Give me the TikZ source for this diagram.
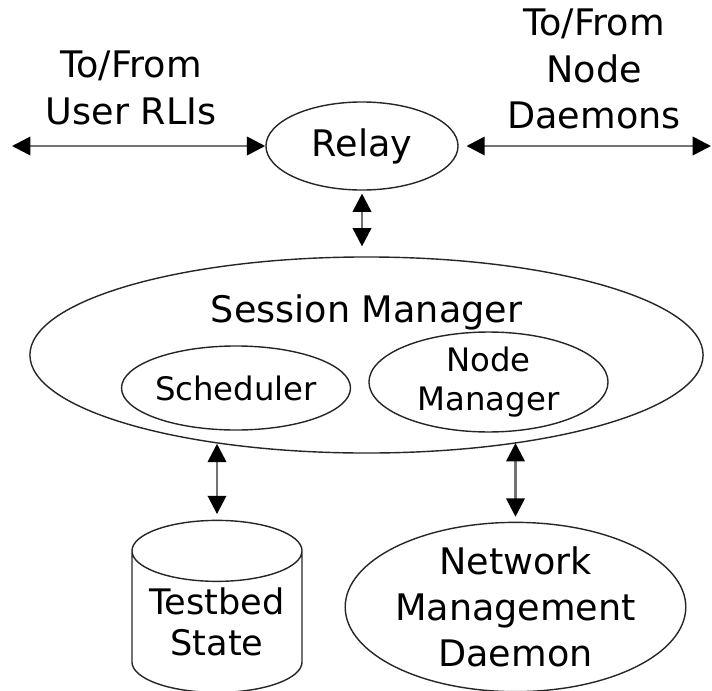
\documentclass[tikz,border=0pt]{standalone}
\usepackage{fontspec}
\setmainfont{DejaVu Sans}
\usetikzlibrary{shapes.geometric, arrows.meta, positioning}

\begin{document}
\begin{tikzpicture}[x=0.025cm, y=-0.025cm,
    every node/.style={text=black, font=\fontsize{26}{33}\selectfont, align=center},
    oval/.style={ellipse, draw=black!85, line width=1pt, inner sep=0pt},
    inneroval/.style={oval, font=\fontsize{23}{28}\selectfont},
    store/.style={cylinder, shape border rotate=90, aspect=0.45, draw=black!85, line width=1pt, inner sep=0pt},
    link/.style={{Triangle[length=13pt,width=13pt,color=black]}-{Triangle[length=13pt,width=13pt,color=black]}, line width=1.9pt, draw=black!55}]
    \useasboundingbox (0,0) rectangle (712,691);

    % relay and the outside world
    \node[oval, minimum width=4.8cm, minimum height=2.2cm] (relay) at (362,146) {Relay};
    \node (rli) at (131,88) {To/From\\User RLIs};
    \node (daemons) at (594,69) {To/From\\Node\\Daemons};
    \coordinate (rliend) at (12,146);
    \coordinate (daemonend) at (711,146);

    % session manager
    \node[oval, minimum width=16.825cm, minimum height=4.9cm] (sm) at (366.5,355) {};
    \node (smtext) at (366.5,312) {Session Manager};
    \node[inneroval, minimum width=5.45cm, minimum height=2.1cm] (sched) at (236,388) {Scheduler};
    \node[inneroval, minimum width=5.975cm, minimum height=2.4cm] (nm) at (488.5,382) {Node\\Manager};

    % bottom row
    \node[store, minimum width=4.25cm, minimum height=4.3cm, font=\fontsize{25}{29}\selectfont] (tb) at (217,622) {Testbed\\State};
    \node[oval, minimum width=7.175cm, minimum height=4.2cm, font=\fontsize{26}{32.5}\selectfont] (nmd) at (515.5,607) {Network\\Management\\Daemon};

    \draw[link] (rliend) -- (relay.west);
    \draw[link, shorten <=5.5pt] (relay.east) -- (daemonend);
    \draw[link, shorten <=2pt, shorten >=7pt] (relay.south) -- (relay.south |- sm.north);
    \draw[link, shorten >=4pt] (tb.north |- sm.-149.5) -- (tb.north);
    \draw[link, shorten >=3.5pt] (nmd.north |- sm.-30.5) -- (nmd.north);
\end{tikzpicture}
\end{document}
